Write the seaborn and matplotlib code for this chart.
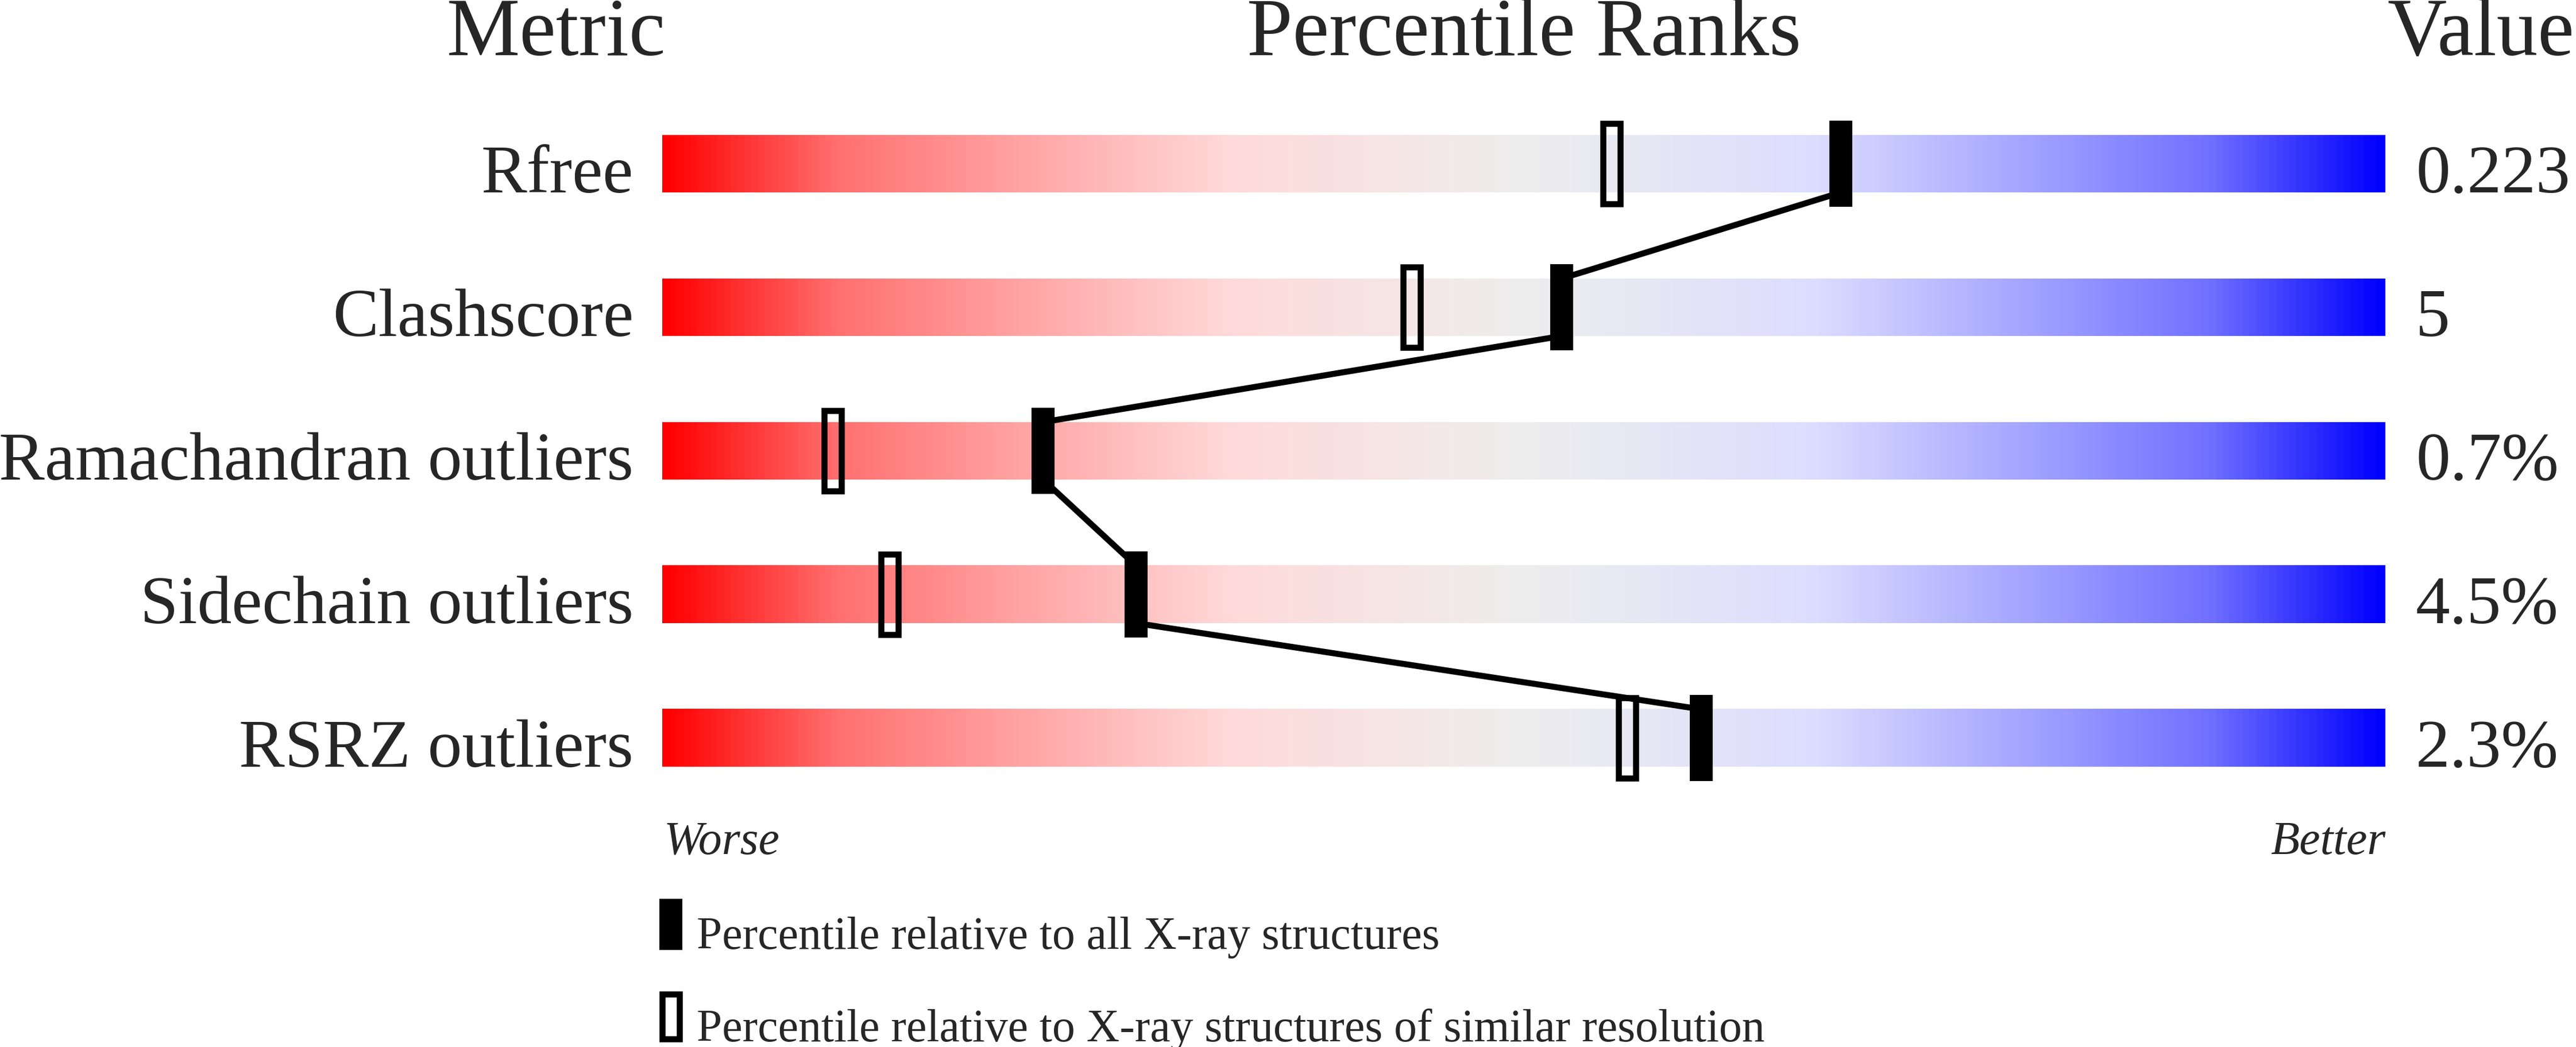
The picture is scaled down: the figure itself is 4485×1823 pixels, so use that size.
import numpy as np
import seaborn as sns
import matplotlib.pyplot as plt
from matplotlib.colors import LinearSegmentedColormap
from matplotlib.patches import Patch, Rectangle
from matplotlib.legend_handler import HandlerPatch

# metric names, shown values and percentile ranks
metrics = ['Rfree', 'Clashscore', 'Ramachandran outliers', 'Sidechain outliers', 'RSRZ outliers']
values = ['0.223', '5', '0.7%', '4.5%', '2.3%']
pct_all = [68.4, 52.2, 22.1, 27.5, 60.3]      # all X-ray structures (filled)
pct_similar = [55.1, 43.5, 9.9, 13.2, 56.0]   # similar resolution (hollow)
legend_labels = ['Percentile relative to all X-ray structures',
                 'Percentile relative to X-ray structures of similar resolution']

sns.set_style('white')
plt.rcParams['font.family'] = ['Liberation Serif', 'DejaVu Serif']

W, H = 4485, 1824
PX = 72 / 100   # points per pixel at dpi 100
fig = plt.figure(figsize=(W / 100, H / 100), dpi=100)
# axes: x = percentile 0..100, y = row index (top to bottom), 30 px per percent, 250 px per row
ax = fig.add_axes([1153 / W, (H - 1411) / H, 3000 / W, 1250 / H])

# red -> pale -> grey -> lavender -> blue slider gradient
slider = LinearSegmentedColormap.from_list('slider', [
    (0.0, (1.0, 0.0, 0.0)),
    (0.1, (1.0, 0.44, 0.44)),
    (0.2, (1.0, 0.63, 0.63)),
    (0.33, (1.0, 0.855, 0.855)),
    (0.5, (0.933, 0.933, 0.933)),
    (0.67, (0.865, 0.865, 1.0)),
    (0.8, (0.63, 0.63, 1.0)),
    (0.9, (0.44, 0.44, 1.0)),
    (1.0, (0.0, 0.0, 1.0)),
])
grad = np.linspace(0, 1, 512)[None, :]
bar_h = 0.4
for i in range(len(metrics)):
    ax.imshow(grad, extent=(0, 100, i + bar_h / 2, i - bar_h / 2), aspect='auto',
              cmap=slider, interpolation='bilinear', zorder=1)

rows = np.arange(len(metrics))
mk_w = 40 / 30          # marker 40 px wide, in percentile units
mk_h = 0.6              # marker 150 px tall, in row units
edge_px = 10.5
lw_box = edge_px * PX

# hollow markers (similar resolution); shrink by the stroke so the outer size matches
hol_h = mk_h - edge_px / 250
ax.bar(pct_similar, hol_h, width=mk_w - edge_px / 30, bottom=rows - hol_h / 2,
       facecolor='none', edgecolor='black', linewidth=lw_box, zorder=2)

# line joining the filled markers, bar bottom of one row to bar top of the next
line_x, line_y = [], []
for i, p in enumerate(pct_all):
    line_x += [p, p]
    line_y += [i - bar_h / 2, i + bar_h / 2]
sns.lineplot(x=line_x, y=line_y, sort=False, estimator=None, color='black',
             linewidth=10.5 * PX, ax=ax, zorder=3)

# filled markers (all structures)
ax.bar(pct_all, mk_h, width=mk_w, bottom=rows - mk_h / 2, color='black', linewidth=0, zorder=4)

ax.set_xlim(0, 100)
ax.set_ylim(len(metrics) - 0.5, -0.5)
ax.axis('off')

# row labels and values
for i, (m, v) in enumerate(zip(metrics, values)):
    ax.text(-1.667, i + 0.196, m, ha='right', va='baseline', fontsize=86, clip_on=False)
    ax.text(101.77, i + 0.196, v, ha='left', va='baseline', fontsize=86, clip_on=False)

# column headers
fig.text(969 / W, 1 - 96 / H, 'Metric', ha='center', va='baseline', fontsize=103)
fig.text(2653 / W, 1 - 96 / H, 'Percentile Ranks', ha='center', va='baseline', fontsize=103)
fig.text(4156 / W, 1 - 96 / H, 'Value', ha='left', va='baseline', fontsize=103)

ax.text(0.1, 4.804, 'Worse', ha='left', va='baseline', fontsize=59, style='italic', clip_on=False)
ax.text(100, 4.804, 'Better', ha='right', va='baseline', fontsize=59, style='italic', clip_on=False)


def legend_bar(legend, orig_handle, xdescent, ydescent, width, height, fontsize):
    # tall slim bar sitting on the text baseline
    inset = orig_handle.get_linewidth() / 2
    return Rectangle((-xdescent + inset, -3 * PX + inset), width - 2 * inset, 89 * PX - 2 * inset)


handles = [Patch(facecolor='black', edgecolor='black', linewidth=0),
           Patch(facecolor='none', edgecolor='black', linewidth=lw_box)]
ax.legend(handles, legend_labels, loc='upper left', bbox_to_anchor=(1148 / W, 1 - 1596 / H),
          bbox_transform=fig.transFigure, frameon=False, fontsize=57.3,
          handler_map={Patch: HandlerPatch(patch_func=legend_bar)},
          handlelength=0.5, handleheight=0.7, handletextpad=0.316,
          labelspacing=1.09, borderpad=0, borderaxespad=0)

fig.savefig('out.png', dpi=100)
